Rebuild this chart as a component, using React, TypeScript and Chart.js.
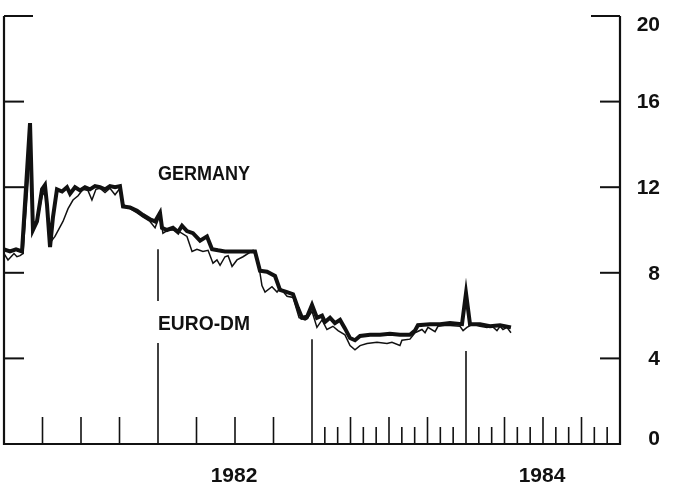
import { useEffect, useRef } from "react";
import { Chart, registerables } from "chart.js";

Chart.register(...registerables);

// Germany (thick line): dates in decimal years, rates in percent
const germanyDates = [
  1981.0, 1981.039, 1981.078, 1981.117, 1981.169, 1981.188, 1981.214, 1981.247, 1981.266, 1981.279,
  1981.299, 1981.318, 1981.344, 1981.377, 1981.409, 1981.429, 1981.461, 1981.494, 1981.526, 1981.558,
  1981.591, 1981.623, 1981.656, 1981.688, 1981.721, 1981.753, 1981.773, 1981.818, 1981.864, 1981.903,
  1981.948, 1981.981, 1982.013, 1982.026, 1982.058, 1982.097, 1982.13, 1982.156, 1982.188, 1982.227,
  1982.273, 1982.318, 1982.351, 1982.39, 1982.435, 1982.5, 1982.565, 1982.63, 1982.662, 1982.708,
  1982.76, 1982.792, 1982.838, 1982.877, 1982.909, 1982.935, 1982.968, 1983.0, 1983.032, 1983.065,
  1983.084, 1983.117, 1983.149, 1983.182, 1983.214, 1983.247, 1983.279, 1983.312, 1983.377, 1983.442,
  1983.506, 1983.571, 1983.636, 1983.669, 1983.688, 1983.766, 1983.831, 1983.896, 1983.974, 1984.0,
  1984.026, 1984.091, 1984.156, 1984.221, 1984.292,
];
const germanyRates = [
  9.1, 9.0, 9.1, 9.0, 15.0, 10.0, 10.4, 11.9, 12.1, 11.2,
  9.2, 10.6, 11.9, 11.8, 12.0, 11.7, 12.0, 11.85, 12.0, 11.9,
  12.05, 12.0, 11.9, 12.05, 12.0, 12.05, 11.1, 11.05, 10.9, 10.7,
  10.5, 10.4, 10.8, 10.1, 10.0, 10.1, 9.9, 10.2, 9.95, 9.85,
  9.5, 9.7, 9.1, 9.05, 9.0, 9.0, 9.0, 9.0, 8.1, 8.05,
  7.85, 7.2, 7.1, 7.0, 6.35, 5.9, 5.95, 6.5, 5.9, 6.0,
  5.7, 5.9, 5.65, 5.8, 5.4, 4.95, 4.85, 5.05, 5.1, 5.1,
  5.15, 5.1, 5.1, 5.3, 5.55, 5.6, 5.6, 5.65, 5.6, 7.05,
  5.6, 5.6, 5.5, 5.55, 5.45,
];

// Euro-DM (thin line)
const euroDmDates = [
  1981.0, 1981.026, 1981.065, 1981.084, 1981.104, 1981.123, 1981.169, 1981.188, 1981.214, 1981.247,
  1981.266, 1981.286, 1981.299, 1981.331, 1981.383, 1981.416, 1981.448, 1981.481, 1981.513, 1981.545,
  1981.571, 1981.597, 1981.623, 1981.656, 1981.688, 1981.721, 1981.753, 1981.773, 1981.818, 1981.864,
  1981.903, 1981.948, 1981.981, 1982.013, 1982.032, 1982.065, 1982.097, 1982.143, 1982.188, 1982.221,
  1982.253, 1982.292, 1982.325, 1982.357, 1982.383, 1982.403, 1982.435, 1982.455, 1982.481, 1982.513,
  1982.552, 1982.617, 1982.649, 1982.675, 1982.695, 1982.74, 1982.773, 1982.792, 1982.838, 1982.877,
  1982.916, 1982.955, 1982.968, 1983.0, 1983.032, 1983.065, 1983.097, 1983.136, 1983.169, 1983.214,
  1983.247, 1983.279, 1983.312, 1983.357, 1983.422, 1983.487, 1983.519, 1983.571, 1983.584, 1983.636,
  1983.669, 1983.714, 1983.734, 1983.753, 1983.799, 1983.818, 1983.877, 1983.961, 1983.981, 1984.006,
  1984.045, 1984.091, 1984.136, 1984.169, 1984.201, 1984.221, 1984.24, 1984.266, 1984.292,
];
const euroDmRates = [
  8.9, 8.6, 8.9, 8.75, 8.8, 8.9, 13.5, 10.2, 10.3, 11.6,
  11.8, 10.6, 9.4, 9.7, 10.4, 11.0, 11.4, 11.6, 11.9, 11.85,
  11.4, 11.9, 11.95, 11.75, 11.95, 11.65, 11.95, 11.2, 11.0, 10.8,
  10.6, 10.4, 10.1, 10.7, 9.85, 10.0, 10.0, 9.9, 9.7, 9.0,
  9.1, 9.0, 9.05, 8.45, 8.6, 8.35, 8.75, 8.8, 8.3, 8.6,
  8.75, 9.05, 8.6, 7.4, 7.1, 7.35, 7.1, 7.3, 6.9, 6.85,
  5.9, 5.8, 5.85, 6.2, 5.45, 5.8, 5.35, 5.5, 5.3, 5.1,
  4.6, 4.4, 4.6, 4.7, 4.75, 4.7, 4.75, 4.6, 4.85, 4.9,
  5.2, 5.35, 5.2, 5.45, 5.25, 5.5, 5.55, 5.5, 5.3, 5.45,
  5.6, 5.5, 5.45, 5.5, 5.3, 5.5, 5.35, 5.45, 5.2,
];

const rateTicks = [0, 4, 8, 12, 16, 20];
const xStart = 1981;
const xEnd = 1985;
const yearLabels = [1982, 1984];
const yearLines = [1982, 1983, 1984];
const yearLineTops = [9.1, 4.9, 4.35];
const quarterlyYears = [1981, 1982];
const monthlyYears = [1983, 1984];
const seriesLabels = ["GERMANY", "EURO-DM"];
const seriesLabelX = [1982.0, 1982.0];
const seriesLabelY = [12.66, 5.65];

const INK = "#111";
const FONT = "bold 21px 'Liberation Sans', Arial, sans-serif";

const framePlugin = {
  id: "frame",
  afterDatasetsDraw(chart: any) {
    const { ctx } = chart;
    const x = chart.scales.x;
    const y = chart.scales.y;
    const left = x.getPixelForValue(xStart);
    const right = x.getPixelForValue(xEnd);
    const top = y.getPixelForValue(20);
    const base = y.getPixelForValue(0);
    const seg = (x1: number, y1: number, x2: number, y2: number) => {
      ctx.beginPath();
      ctx.moveTo(x1, y1);
      ctx.lineTo(x2, y2);
      ctx.stroke();
    };
    ctx.save();
    ctx.strokeStyle = INK;
    ctx.fillStyle = INK;
    ctx.lineCap = "butt";

    // frame: left, bottom, right
    ctx.lineWidth = 2.2;
    ctx.beginPath();
    ctx.moveTo(left, top);
    ctx.lineTo(left, base);
    ctx.lineTo(right, base);
    ctx.lineTo(right, top);
    ctx.stroke();

    // y ticks, both sides, inward
    ctx.lineWidth = 2;
    rateTicks.forEach((v) => {
      if (v === 0) return;
      const py = y.getPixelForValue(v);
      const len = v === 20 ? 29 : 20;
      seg(left, py, left + len, py);
      seg(right - len, py, right, py);
    });

    // right-hand labels
    ctx.font = FONT;
    ctx.textAlign = "right";
    ctx.textBaseline = "middle";
    rateTicks.forEach((v) => {
      let py = y.getPixelForValue(v);
      py = Math.max(top + 8, Math.min(base - 6, py));
      ctx.fillText(String(v), right + 40, py + 1);
    });

    // bottom ticks
    ctx.lineWidth = 1.6;
    quarterlyYears.forEach((yr) => {
      for (let m = 3; m < 12; m += 3) {
        const px = x.getPixelForValue(yr + m / 12);
        seg(px, base, px, base - 27);
      }
    });
    monthlyYears.forEach((yr) => {
      for (let m = 1; m < 12; m++) {
        const px = x.getPixelForValue(yr + m / 12);
        seg(px, base, px, base - (m % 3 === 0 ? 27 : 17));
      }
    });

    // year divider lines (gap around EURO-DM label)
    const labelGapCenter = y.getPixelForValue(seriesLabelY[1]);
    yearLines.forEach((yr, i) => {
      const px = x.getPixelForValue(yr);
      const pt = y.getPixelForValue(yearLineTops[i]);
      const labelPx = x.getPixelForValue(seriesLabelX[1]);
      if (Math.abs(px - labelPx) < 2 && pt < labelGapCenter) {
        seg(px, pt, px, labelGapCenter - 22);
        seg(px, labelGapCenter + 20, px, base);
      } else {
        seg(px, pt, px, base);
      }
    });

    // year labels
    ctx.textAlign = "center";
    yearLabels.forEach((yr) => {
      ctx.fillText(String(yr), x.getPixelForValue(yr + 0.5) - 1, base + 32);
    });

    // series labels
    ctx.textAlign = "left";
    seriesLabels.forEach((s, i) => {
      ctx.fillText(s, x.getPixelForValue(seriesLabelX[i]), y.getPixelForValue(seriesLabelY[i]) + 1, 92);
    });
    ctx.restore();
  },
};

export default function App() {
  const ref = useRef<HTMLCanvasElement>(null);
  useEffect(() => {
    if (!ref.current) return;
    const chart = new Chart(ref.current, {
      type: "line",
      data: {
        datasets: [
          {
            label: "Germany",
            data: germanyDates.map((t, i) => ({ x: t, y: germanyRates[i] })),
            borderColor: INK,
            borderWidth: 4,
            pointRadius: 0,
            tension: 0,
          },
          {
            label: "Euro-DM",
            data: euroDmDates.map((t, i) => ({ x: t, y: euroDmRates[i] })),
            borderColor: INK,
            borderWidth: 1.5,
            pointRadius: 0,
            tension: 0,
          },
        ],
      },
      options: {
        animation: false,
        responsive: false,
        devicePixelRatio: 1,
        layout: { padding: { left: 4, right: 63, top: 16, bottom: 44 } },
        plugins: { legend: { display: false }, tooltip: { enabled: false } },
        scales: {
          x: { type: "linear", min: xStart, max: xEnd, display: false },
          y: { type: "linear", min: 0, max: 20, display: false },
        },
      },
      plugins: [framePlugin],
    });
    return () => chart.destroy();
  }, []);
  return (
    <div style={{ position: "absolute", left: 0, top: 0, width: 683, height: 488, background: "#fff" }}>
      <canvas ref={ref} width={683} height={488} style={{ display: "block" }} />
    </div>
  );
}
